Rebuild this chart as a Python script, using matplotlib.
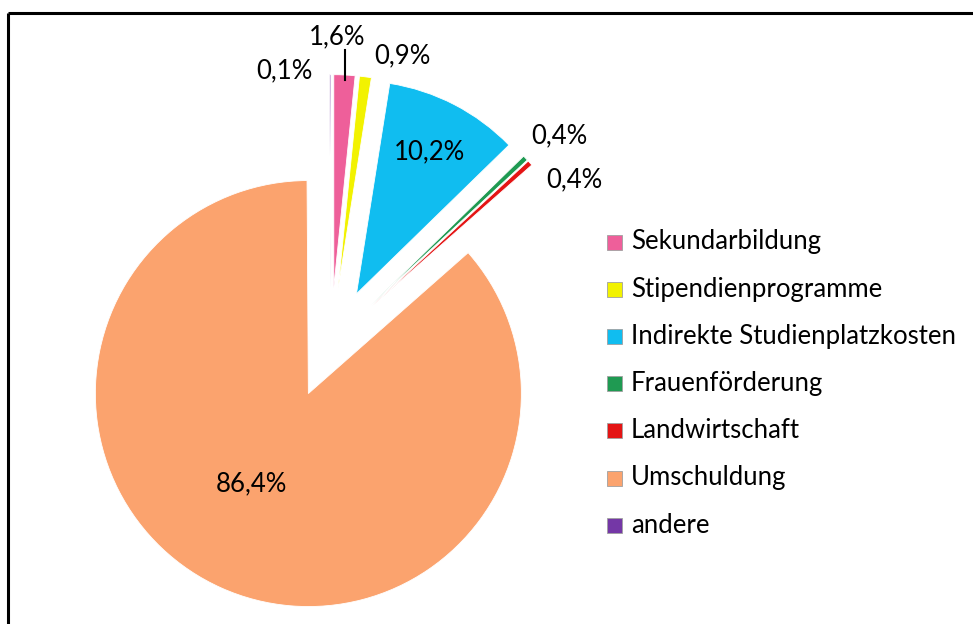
import numpy as np
import matplotlib
matplotlib.use("Agg")
import matplotlib.pyplot as plt
from matplotlib.patches import Rectangle

categories = ["Sekundarbildung", "Stipendienprogramme", "Indirekte Studienplatzkosten",
              "Frauenförderung", "Landwirtschaft", "Umschuldung", "andere"]
values = [1.6, 0.9, 10.2, 0.4, 0.4, 86.4, 0.1]
value_labels = ["1,6%", "0,9%", "10,2%", "0,4%", "0,4%", "86,4%", "0,1%"]
colors = ["#EE5F9A", "#F2F200", "#10BDF0", "#1F9A52", "#E41414", "#FBA36E", "#7437A6"]

W, H = 973, 624
fig = plt.figure(figsize=(W / 100, H / 100), dpi=100)
ax = fig.add_axes([0, 0, 1, 1])

FONT = "Lato"
FS = 18.5
cx, cy, R = 331, H - 343, 213
explode_dist = 0.26 * R  # matplotlib explode is in data units here
wedges, _ = ax.pie(values, colors=colors, startangle=90, counterclock=False,
                   explode=[explode_dist] * len(values), center=(cx, cy), radius=R,
                   wedgeprops=dict(edgecolor="white", linewidth=0.6), frame=True)
ax.set_xlim(0, W)
ax.set_ylim(0, H)
ax.set_aspect("equal")
ax.axis("off")

# label placement: (radial factor, angle offset in degrees, clockwise)
label_layout = [(1.18, -2.2), (1.13, 8.2), (0.75, 0.0), (1.19, 1.6),
                (1.12, 10.1), (0.50, 8.2), (1.04, -12.0)]
for w, lab, (rf, dang) in zip(wedges, value_labels, label_layout):
    mid = np.deg2rad((w.theta1 + w.theta2) / 2 - dang)
    ox, oy = w.center
    tx = ox + rf * R * np.cos(mid)
    ty = oy + rf * R * np.sin(mid)
    ax.text(tx, ty, lab, ha="center", va="center", fontsize=FS,
            family=FONT, color="black")

# leader line for the Sekundarbildung label
w0 = wedges[0]
m0 = np.deg2rad((w0.theta1 + w0.theta2) / 2)
ox, oy = w0.center
x0 = ox + R * np.cos(m0) + 1
y0 = oy + R * np.sin(m0)
ax.plot([x0, x0], [y0 - 5, y0 + 25], color="black", lw=1.5)

# legend
leg_x, leg_y0, leg_dy = 607, H - 242, 47.2
for i, (c, name) in enumerate(zip(colors, categories)):
    y = leg_y0 - i * leg_dy
    ax.add_patch(Rectangle((leg_x, y - 7.5), 15, 15, facecolor=c,
                           edgecolor="#A0A0A0", linewidth=0.6))
    ax.text(leg_x + 24, y, name, ha="left", va="center", fontsize=FS,
            family=FONT, color="black")

# frame lines (top and left)
ax.plot([7.5, W], [H - 12.5, H - 12.5], color="black", lw=2.2, solid_capstyle="butt")
ax.plot([7.5, 7.5], [0, H - 12.5], color="black", lw=2.2, solid_capstyle="butt")

fig.savefig("out.png", dpi=100, facecolor="white")
